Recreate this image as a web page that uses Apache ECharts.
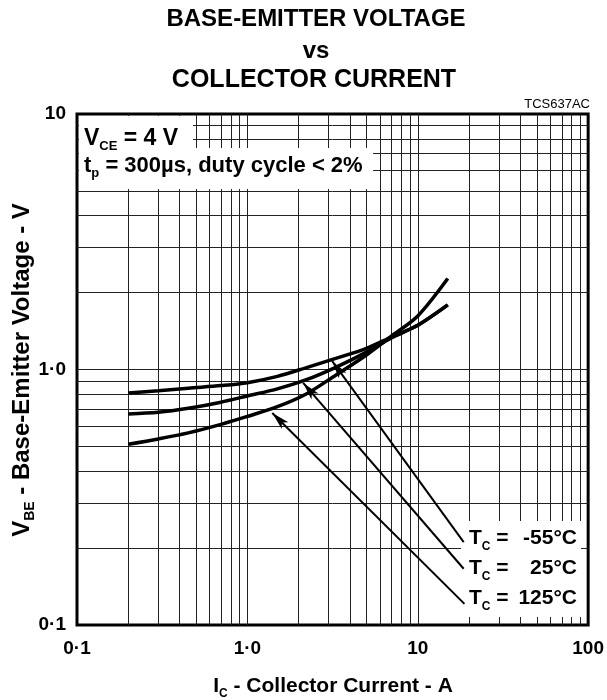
<!DOCTYPE html>
<html><head><meta charset="utf-8">
<script src="https://cdn.jsdelivr.net/npm/echarts@6/dist/echarts.min.js"></script>
<style>html,body{margin:0;padding:0;background:#fff}#c{width:607px;height:700px}</style>
</head><body><div id="c"></div>
<script>
// ---- data ----
const ic = [0.2, 0.3, 0.45, 0.7, 1.0, 1.5, 2.2, 3.3, 5.0, 7.0, 10, 15];
const vbeM55 = [0.81, 0.825, 0.845, 0.865, 0.888, 0.94, 1.015, 1.105, 1.21, 1.34, 1.49, 1.79];
const vbe25 = [0.67, 0.68, 0.705, 0.745, 0.788, 0.84, 0.91, 1.02, 1.17, 1.33, 1.49, 1.79];
const vbe125 = [0.51, 0.535, 0.565, 0.61, 0.655, 0.715, 0.80, 0.95, 1.14, 1.35, 1.62, 2.27];
const xTickLabels = ['0·1', '1·0', '10', '100'];
const yTickLabels = ['0·1', '1·0', '10'];
const gridX = [0.2,0.3,0.4,0.5,0.6,0.7,0.8,0.9,1,2,3,4,5,6,7,8,9,10,20,30,40,50,60,70,80,90];
const gridY = [0.2,0.3,0.4,0.5,0.6,0.7,0.8,0.9,1,2,3,4,5,6,7,8,9];
const arrowFrom = [[18.6, 0.211], [18.6, 0.166], [18.8, 0.121]];
const arrowTo = [[3.14, 1.08], [2.125, 0.886], [1.40, 0.676]];
const tempLabels = ['-55°C', '25°C', '125°C'];

// ---- chart ----
const FONT = '"Liberation Sans", Arial, Helvetica, sans-serif';
const chart = echarts.init(document.getElementById('c'));

// main text top-aligned, subscript bottom-aligned in a taller line
function subLine(F, S, off) { return off + (S + F) / 2; }
function richSub(F, S, off) {
  const L = subLine(F, S, off);
  return {
    a: {fontSize: F, fontWeight: 'bold', fontFamily: FONT, color: '#000', lineHeight: F, verticalAlign: 'top'},
    s: {fontSize: S, fontWeight: 'bold', fontFamily: FONT, color: '#000', lineHeight: L, verticalAlign: 'bottom'}
  };
}
function shift(F, S, off) { return (subLine(F, S, off) - F) / 2; }
function txt(x, y, text, opts) {
  return {
    type: 'text', x: x, y: y, z: 20, zlevel: 0,
    style: Object.assign({
      x: 0, y: 0, text: text, fill: '#000',
      font: 'bold 21px ' + FONT,
      fontFamily: FONT, fontWeight: 'bold', fontSize: 21,
      align: 'left', verticalAlign: 'middle',
      textAlign: 'left', textVerticalAlign: 'middle'
    }, opts || {})
  };
}
function rect(x, y, w, h) {
  return {type: 'rect', z: 3, zlevel: 0, shape: {x: x, y: y, width: w, height: h}, style: {fill: '#fff', stroke: null}};
}
function decadeIndex(v) { return Math.round(Math.log10(v)) + 1; }

const curve = (vals) => ({
  type: 'line', data: ic.map((x, i) => [x, vals[i]]), smooth: 0.3, showSymbol: false,
  lineStyle: {color: '#000', width: 3.5}, z: 5, silent: true
});

const option = {
  animation: false,
  backgroundColor: '#fff',
  grid: {left: 77, right: 17, top: 114, bottom: 75, show: true, borderColor: '#000', borderWidth: 3, backgroundColor: 'transparent'},
  xAxis: {
    type: 'log', logBase: 10, min: 0.1, max: 100, splitNumber: 3,
    axisLine: {show: false}, axisTick: {show: false}, splitLine: {show: false},
    axisLabel: {fontFamily: FONT, fontWeight: 'bold', fontSize: 19, color: '#000', margin: 14,
      formatter: v => xTickLabels[decadeIndex(v)]}
  },
  yAxis: {
    type: 'log', logBase: 10, min: 0.1, max: 10, splitNumber: 2,
    axisLine: {show: false}, axisTick: {show: false}, splitLine: {show: false},
    axisLabel: {fontFamily: FONT, fontWeight: 'bold', fontSize: 19, color: '#000', margin: 11,
      formatter: v => yTickLabels[decadeIndex(v)]}
  },
  series: [
    {
      type: 'line', data: [[0.1, 0.1]], showSymbol: false, lineStyle: {opacity: 0}, z: 1, silent: true,
      markLine: {
        z: 1, silent: true, symbol: 'none', label: {show: false}, animation: false,
        lineStyle: {color: '#222', width: 1, type: 'solid'},
        emphasis: {disabled: true},
        data: gridX.map(v => ({xAxis: v})).concat(gridY.map(v => ({yAxis: v})))
      }
    },
    curve(vbeM55),
    curve(vbe25),
    curve(vbe125),
    {
      type: 'line', data: [[0.1, 0.1]], showSymbol: false, lineStyle: {opacity: 0}, z: 6, silent: true,
      markLine: {
        z: 6, silent: true, label: {show: false}, animation: false,
        symbol: ['none', 'arrow'],
        lineStyle: {color: '#000', width: 2, type: 'solid'},
        emphasis: {disabled: true},
        data: arrowFrom.map((f, i) => [
          {coord: f, symbol: 'none'},
          {coord: arrowTo[i], symbol: 'arrow', symbolSize: [7, 18]}
        ])
      }
    }
  ],
  graphic: [
    // title
    txt(316, 19, 'BASE-EMITTER VOLTAGE', {fontSize: 24, font: 'bold 24px ' + FONT, align: 'center', textAlign: 'center'}),
    txt(316, 51, 'vs', {fontSize: 24, font: 'bold 24px ' + FONT, align: 'center', textAlign: 'center'}),
    txt(314, 80, 'COLLECTOR CURRENT', {fontSize: 25, font: 'bold 25px ' + FONT, align: 'center', textAlign: 'center'}),
    txt(590, 104, 'TCS637AC', {fontSize: 13, fontWeight: 'normal', font: '13px ' + FONT, align: 'right', textAlign: 'right'}),
    // conditions boxes
    rect(79, 116, 114, 32),
    rect(79, 148, 294, 41),
    txt(84, 138.5 + shift(23, 13, 8), '{a|V}{s|CE}{a| = 4 V}', {rich: richSub(23, 13, 8)}),
    txt(84, 165.5 + shift(22, 13, 8), '{a|t}{s|p}{a| = 300µs, duty cycle < 2%}', {rich: richSub(22, 13, 8)}),
    // temperature legend box
    rect(461, 521, 120, 96),
    txt(469, 538 + shift(21, 12, 8.5), '{a|T}{s|C}{a| =}', {rich: richSub(21, 12, 8.5)}),
    txt(469, 568 + shift(21, 12, 8.5), '{a|T}{s|C}{a| =}', {rich: richSub(21, 12, 8.5)}),
    txt(469, 598 + shift(21, 12, 8.5), '{a|T}{s|C}{a| =}', {rich: richSub(21, 12, 8.5)}),
    txt(577, 538, tempLabels[0], {align: 'right', textAlign: 'right'}),
    txt(577, 568, tempLabels[1], {align: 'right', textAlign: 'right'}),
    txt(577, 598, tempLabels[2], {align: 'right', textAlign: 'right'}),
    // axis names
    txt(333, 686 + shift(21, 12, 8), '{a|I}{s|C}{a| - Collector Current - A}', {rich: richSub(21, 12, 8), align: 'center', textAlign: 'center'}),
    Object.assign(txt(22 + shift(24, 14, 8), 370, '{a|V}{s|BE}{a| - Base-Emitter Voltage - V}', {rich: richSub(24, 14, 8), align: 'center', textAlign: 'center'}), {rotation: Math.PI / 2})
  ]
};
chart.setOption(option);
</script>
</body></html>
